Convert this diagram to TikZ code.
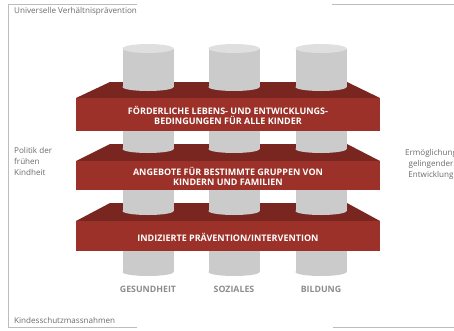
\documentclass[tikz,border=0pt]{standalone}
\usepackage{fontspec}
\setmainfont{Open Sans}
\usepackage{tikz}

\definecolor{slabfront}{HTML}{9B3128}
\definecolor{slabtop}{HTML}{7A2620}
\definecolor{colbody}{HTML}{CBCBCB}
\definecolor{coltop}{HTML}{DFDFDF}
\definecolor{framegray}{HTML}{BDBDBD}
\definecolor{labelgray}{HTML}{6A6A6A}
\definecolor{pillargray}{HTML}{8C8C8C}

\begin{document}
\begin{tikzpicture}[x=1pt,y=-1pt,
    frameline/.style={draw=framegray,line width=.8pt},
    graylabel/.style={text=labelgray,font=\fontsize{8.1}{11}\selectfont,inner sep=0pt},
    slabtext/.style={text=white,font=\bfseries\fontsize{9}{10.5}\selectfont,align=center,inner sep=0pt},
    pillarlabel/.style={text=pillargray,font=\bfseries\fontsize{8.8}{9}\selectfont,inner sep=0pt}]
    \useasboundingbox (0,0) rectangle (454,330);
    % frame
    \draw[frameline] (137,4) -| (8,327) -- (137,327);
    \draw[frameline] (332,4) -- (454,4);
    \draw[frameline] (333,327) -- (454,327);
    % pillars
    \foreach \cx in {148,234,321}{
      \fill[colbody] (\cx-25.5,48.5) rectangle (\cx+25.5,272);
      \fill[colbody] (\cx,272) ellipse [x radius=25.5,y radius=4];
      \fill[coltop] (\cx,48.5) ellipse [x radius=25.5,y radius=4.5];
    }
    % slabs
    \foreach \i/\yb/\yf/\ybot/\yc/\txt in {1/82/98/131/87/{FÖRDERLICHE LEBENS- UND ENTWICKLUNGS-\\BEDINGUNGEN FÜR ALLE KINDER},
        2/144/161/190/149/{ANGEBOTE FÜR BESTIMMTE GRUPPEN VON\\KINDERN UND FAMILIEN},
        3/203/221/251/211/{INDIZIERTE PRÄVENTION/INTERVENTION}}{
      \fill[slabtop] (76,\yf) -- (110,\yb) -- (347,\yb) -- (380,\yf) -- cycle;
      \foreach \cx in {148,234,321}{
        \fill[colbody] (\cx-25.5,\yb) rectangle (\cx+25.5,\yc);
        \fill[colbody] (\cx,\yc) ellipse [x radius=25.5,y radius=4];
      }
      \fill[slabfront] (76,\yf) rectangle (380,\ybot);
      \node[slabtext] (slab\i) at (228,{(\yf+\ybot)/2+1}) {\txt};
    }
    % labels
    \node[pillarlabel] (gesundheit) at (148,289) {GESUNDHEIT};
    \node[pillarlabel] (soziales) at (234,289) {SOZIALES};
    \node[pillarlabel] (bildung) at (321,289) {BILDUNG};
    \node[graylabel,anchor=west] (universell) at (14,11) {Universelle Verhältnisprävention};
    \node[graylabel,anchor=west] (schutz) at (14,320) {Kindesschutzmassnahmen};
    \node[graylabel,anchor=west,align=left] (politik) at (14,161) {Politik der\\frühen\\Kindheit};
    \node[graylabel,align=center] (ermoeglichung) at (431,164) {Ermöglichung\\gelingender\\Entwicklung};
\end{tikzpicture}
\end{document}
